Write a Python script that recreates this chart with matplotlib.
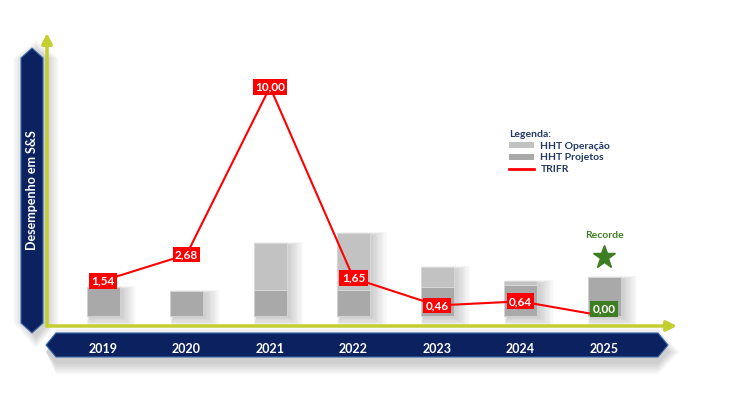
import matplotlib.pyplot as plt
from matplotlib.patches import Polygon, Patch
from matplotlib.lines import Line2D
import numpy as np

plt.rcParams['font.family'] = ['Lato', 'DejaVu Sans']

anos = ['2019', '2020', '2021', '2022', '2023', '2024', '2025']
trifr = [1.54, 2.68, 10.00, 1.65, 0.46, 0.64, 0.00]
trifr_rotulos = ['1,54', '2,68', '10,00', '1,65', '0,46', '0,64', '0,00']
# HHT (escala relativa)
hht_projetos = [29, 25, 26, 26, 29, 31, 39]
hht_operacao = [0, 0, 47, 57, 20, 4, 0]

NAVY = '#0c2160'
VERDE_EIXO = '#c4cf2f'
CINZA_OP = '#c2c2c2'
CINZA_PROJ = '#a9a9a9'
VERMELHO = '#ff0000'
VERDE = '#3e7e23'

W, H = 736, 399
fig = plt.figure(figsize=(W / 100, H / 100), dpi=100)
fig.patch.set_facecolor('white')


def fx(px):
    return px / W


def fy(py):
    return 1 - py / H


def fig_poly(pts, **kw):
    pts = [(fx(a), fy(b)) for a, b in pts]
    fig.patches.append(Polygon(pts, closed=True, transform=fig.transFigure, zorder=-1, **kw))


# sombras e faixas azuis
for k in range(8):
    s = 1 + k * 1.5
    fig_poly([(32 + 4, 48 + 4 - s), (43 + 4 + s, 58), (43 + 4 + s, 323),
              (32 + 4, 333 + 4 + s), (21 + 4 - s, 323), (21 + 4 - s, 58)],
             facecolor='black', alpha=0.025, edgecolor='none')
    fig_poly([(46, 347 + 5), (56, 333 + 6 - s), (658, 333 + 6 - s), (668 + s, 347 + 5),
              (658, 357 + 6 + s), (56, 357 + 6 + s)],
             facecolor='black', alpha=0.025, edgecolor='none')

fig_poly([(32, 48), (43, 58), (43, 323), (32, 333), (21, 323), (21, 58)],
         facecolor=NAVY, edgecolor='#3a6aa8', linewidth=0.8)
fig_poly([(46, 345), (56, 333), (658, 333), (668, 345), (658, 357), (56, 357)],
         facecolor=NAVY, edgecolor='#3a6aa8', linewidth=0.8)
fig.text(fx(32), fy(190), 'Desempenho em S&S', rotation=90, color='white',
         fontsize=9, fontweight='bold', ha='center', va='center')

# eixos principais
px_x = 83.5      # pixels por categoria
px_y = 22.9      # pixels por unidade de TRIFR
x = np.arange(len(anos))
left, right, bottom, top = 47, 677, 326, 33
ax = fig.add_axes([fx(left), fy(bottom), fx(right) - fx(left), fy(top) - fy(bottom)])
ax2 = ax.twinx()
for a in (ax, ax2):
    a.set_xlim((left - 103) / px_x, (right - 103) / px_x)
    for sp in a.spines.values():
        sp.set_visible(False)
    a.set_yticks([])
    a.patch.set_visible(False)
ax.set_ylim(-10 / px_y, (bottom - 10 - top) / px_y)
ax2.set_ylim(-10, bottom - 10 - top)
ax.set_zorder(ax2.get_zorder() + 1)

# barras HHT com sombra suave
largura = 33 / px_x
total = np.array(hht_projetos) + np.array(hht_operacao)
for k in range(12):
    ax2.bar(x + (3 + k * 0.5) / px_x, total + k * 1.2, width=largura + (1.5 * k) / px_x,
            bottom=-2 - k * 0.9, color='black', alpha=0.016, zorder=1, linewidth=0)
ax2.bar(x, hht_projetos, width=largura, color=CINZA_PROJ, edgecolor='#d2d2d2',
        linewidth=0.7, zorder=2)
ax2.bar(x, hht_operacao, bottom=hht_projetos, width=largura, color=CINZA_OP,
        edgecolor='#d8d8d8', linewidth=0.7, zorder=2)

# linha TRIFR
ax.plot(x, trifr, color=VERMELHO, linewidth=1.5, zorder=3)
for i, (v, r) in enumerate(zip(trifr, trifr_rotulos)):
    recorde = v == 0
    ax.annotate(r, (i, v), xytext=(0, 5 if recorde else 0), textcoords='offset points',
                ha='center', va='center', color='white', fontsize=8.5, fontweight='bold',
                bbox=dict(boxstyle='square,pad=0.2', fc=VERDE if recorde else VERMELHO,
                          ec='none'), zorder=4)

ax.text(6, (316 - 236) / px_y, 'Recorde', color=VERDE, fontsize=7.5, fontweight='bold',
        ha='center', va='center')
ax.plot(6, (316 - 257) / px_y, marker='*', markersize=17, color=VERDE, zorder=4)

# eixos com setas
arrow = dict(arrowstyle='-|>,head_length=0.6,head_width=0.3', color=VERDE_EIXO, lw=2.5,
             shrinkA=0, shrinkB=0)
ax.annotate('', xy=(1, 0), xytext=(0, 0), xycoords='axes fraction', arrowprops=arrow)
ax.annotate('', xy=(0, 1), xytext=(0, 0), xycoords='axes fraction', arrowprops=arrow)

# anos
ax.set_xticks(x, anos)
ax.tick_params(axis='x', length=0, pad=12, labelcolor='white', labelsize=9)
for t in ax.get_xticklabels():
    t.set_fontweight('bold')

# legenda
handles = [Patch(facecolor=CINZA_OP), Patch(facecolor=CINZA_PROJ),
           Line2D([0], [0], color=VERMELHO, lw=2)]
leg = ax.legend(handles, ['HHT Operação', 'HHT Projetos', 'TRIFR'], loc='upper left',
                bbox_to_anchor=(fx(504), fy(125)), bbox_transform=fig.transFigure,
                frameon=False, title='Legenda:', alignment='left',
                prop={'size': 7.5, 'weight': 'bold'}, labelcolor='#1f3864',
                handlelength=2.4, handleheight=0.55, labelspacing=0.25, borderpad=0,
                handletextpad=0.6)
leg.get_title().set_color('#1f3864')
leg.get_title().set_fontweight('bold')
leg.get_title().set_fontsize(7.5)

fig.savefig('out.png', dpi=100, facecolor='white')
